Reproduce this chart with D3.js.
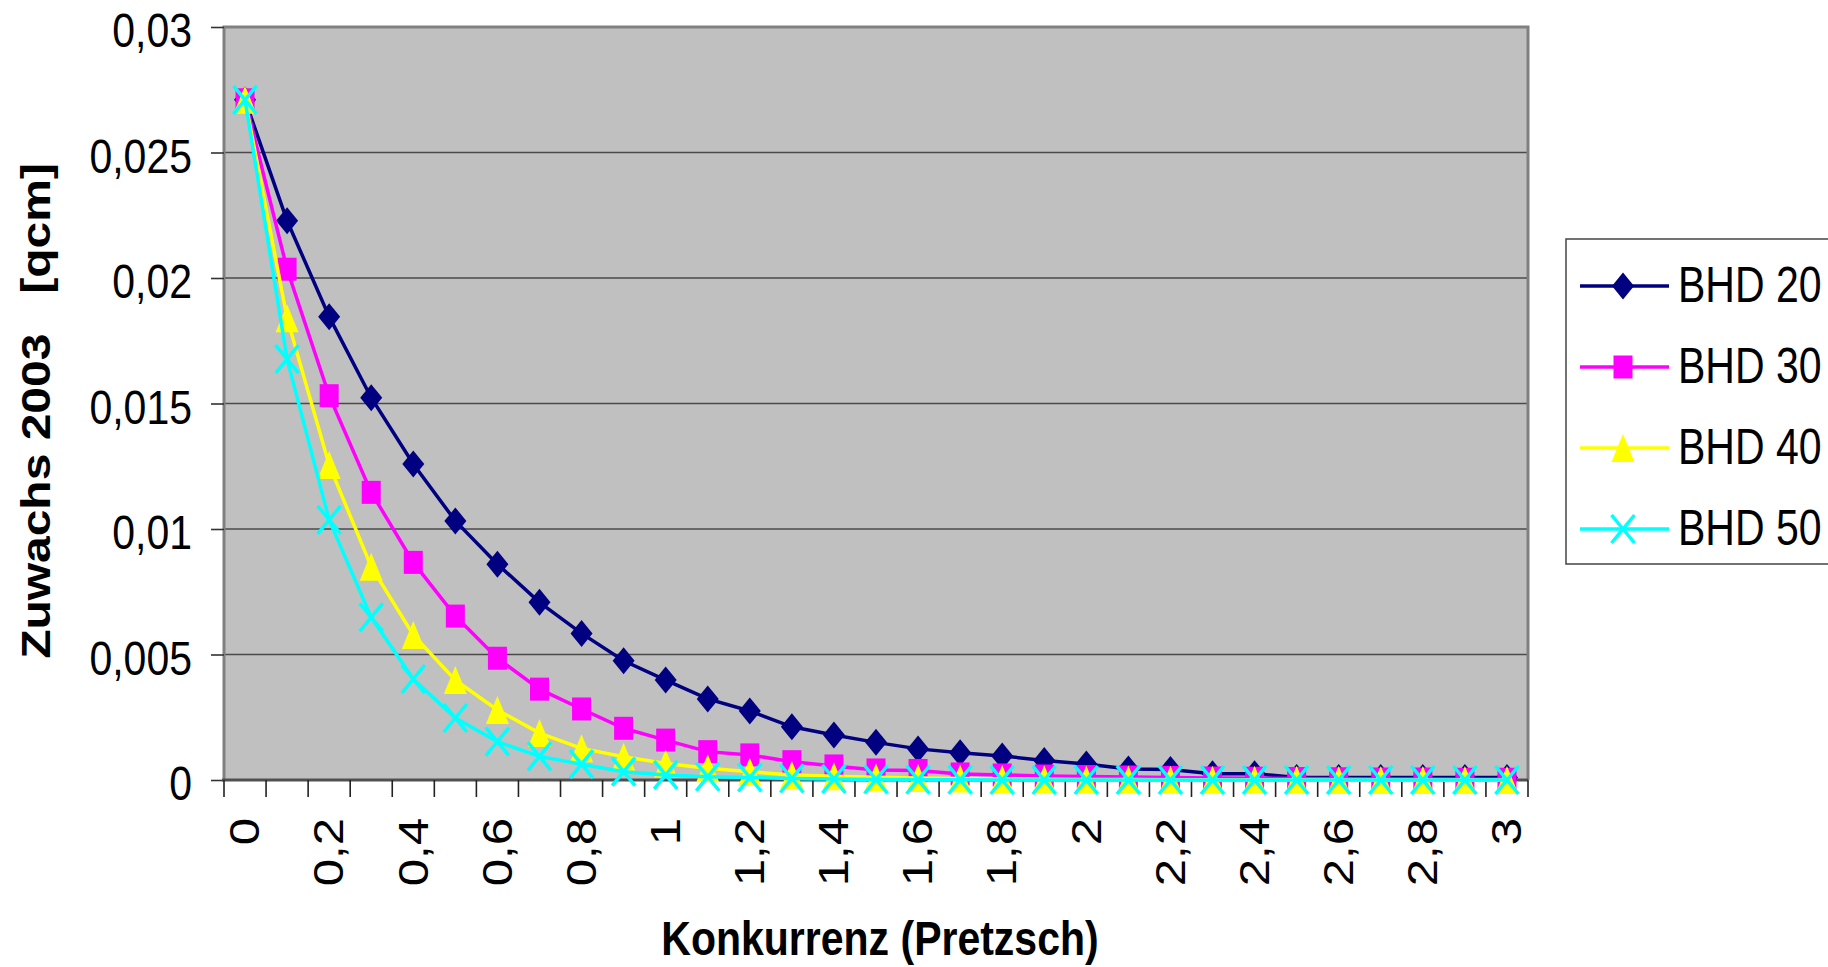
<!DOCTYPE html>
<html>
<head>
<meta charset="utf-8">
<script src="https://cdn.jsdelivr.net/npm/d3@7"></script>
<style>
    body { margin: 0; background: #fff; }
    text { font-family: "Liberation Sans", Arial, sans-serif; white-space: pre; }
</style>
</head>
<body>
<div id="chart"></div>
<script>
// categories on the x axis (Konkurrenz nach Pretzsch, 0 .. 3 in steps of 0.1)
var categories = ["0", "0,1", "0,2", "0,3", "0,4", "0,5", "0,6", "0,7", "0,8", "0,9",
    "1", "1,1", "1,2", "1,3", "1,4", "1,5", "1,6", "1,7", "1,8", "1,9",
    "2", "2,1", "2,2", "2,3", "2,4", "2,5", "2,6", "2,7", "2,8", "2,9", "3"];

// only every second category gets a label
var xTickLabels = ["0", "0,2", "0,4", "0,6", "0,8", "1", "1,2", "1,4", "1,6", "1,8",
    "2", "2,2", "2,4", "2,6", "2,8", "3"];

var yTicks = [0, 0.005, 0.01, 0.015, 0.02, 0.025, 0.03];
var yTickLabels = ["0", "0,005", "0,01", "0,015", "0,02", "0,025", "0,03"];

var seriesNames = ["BHD 20", "BHD 30", "BHD 40", "BHD 50"];

var bhd20 = [0.0271, 0.02228, 0.01846, 0.01523, 0.01259, 0.01032, 0.0086, 0.00708, 0.00584, 0.00475,
    0.00398, 0.00323, 0.00275, 0.00212, 0.00179, 0.0015, 0.00124, 0.00109, 0.00096, 0.00078,
    0.00064, 0.00044, 0.00042, 0.00025, 0.00025, 0.0001, 0.0001, 0.0001, 0.0001, 0.0001, 0.0001];
var bhd30 = [0.0271, 0.02035, 0.01531, 0.01146, 0.00867, 0.00653, 0.00485, 0.00362, 0.00283, 0.00206,
    0.00159, 0.00113, 0.001, 0.00073, 0.00056, 0.0004, 0.00038, 0.00024, 0.0002, 0.00016,
    0.00014, 0.00012, 0.0001, 0.00008, 0.00007, 0.00006, 0.00005, 0.00004, 0.00004, 0.00003, 0.00003];
var bhd40 = [0.0271, 0.0184, 0.01255, 0.0085, 0.00578, 0.00398, 0.00279, 0.00187, 0.00126, 0.00093,
    0.00066, 0.00047, 0.00033, 0.0002, 0.00015, 0.00011, 0.00008, 0.00006, 0.00004, 0.00003,
    0.00002, 0.00002, 0.00001, 0.00001, 0.00001, 0.00001, 0, 0, 0, 0, 0];
var bhd50 = [0.0271, 0.01677, 0.01036, 0.00648, 0.00402, 0.00247, 0.00153, 0.00094, 0.00063, 0.00033,
    0.0002, 0.00013, 0.0001, 0.00006, 0.00004, 0.00002, 0.00001, 0.00001, 0, 0,
    0, 0, 0, 0, 0, 0, 0, 0, 0, 0, 0];

(function() {

    var width = 1828,
        height = 967;

    // plot area in pixels
    var left = 224, top = 27, right = 1528, bottom = 780;

    // the original picture is stretched vertically, so all text gets the same stretch
    var stretch = 1.17;

    var colors = ["#000080", "#ff00ff", "#ffff00", "#00ffff"];
    var shapes = ["diamond", "square", "triangle", "cross"];
    var values = [bhd20, bhd30, bhd40, bhd50];

    var svg = d3.select("#chart")
        .append("svg")
        .attr("width", width)
        .attr("height", height);

    var x = d3.scaleBand()
        .domain(categories)
        .range([left, right])
        .paddingInner(0)
        .paddingOuter(0);

    var y = d3.scaleLinear()
        .domain([0, 0.03])
        .range([bottom, top]);

    function cx(i) {
        return x(categories[i]) + x.bandwidth() / 2;
    }

    // grey plot background
    svg.append("rect")
        .attr("x", left)
        .attr("y", top)
        .attr("width", right - left)
        .attr("height", bottom - top)
        .attr("fill", "#c0c0c0");

    // horizontal gridlines
    svg.append("g")
        .selectAll("line")
        .data(yTicks.slice(1, -1))
        .enter()
        .append("line")
        .attr("x1", left)
        .attr("x2", right)
        .attr("y1", function(d) { return y(d); })
        .attr("y2", function(d) { return y(d); })
        .attr("stroke", "#4a4a4a")
        .attr("stroke-width", 1.6);

    // plot border (grey on top, left and right)
    svg.append("path")
        .attr("d", "M" + left + "," + bottom + "V" + top + "H" + right + "V" + bottom)
        .attr("fill", "none")
        .attr("stroke", "#808080")
        .attr("stroke-width", 3);

    // y axis
    var yAxis = d3.axisLeft(y)
        .tickValues(yTicks)
        .tickSize(13)
        .tickFormat("");

    var yAxisG = svg.append("g")
        .attr("transform", "translate(" + left + ",0)")
        .call(yAxis);
    yAxisG.select(".domain").remove();
    yAxisG.selectAll(".tick line").attr("stroke", "#333").attr("stroke-width", 1.6);

    svg.append("g")
        .selectAll("text")
        .data(yTicks)
        .enter()
        .append("text")
        .attr("transform", function(d) {
            return "translate(192," + (y(d) + 20) + ") scale(1," + stretch + ")";
        })
        .attr("text-anchor", "end")
        .attr("font-size", 41)
        .text(function(d, i) { return yTickLabels[i]; });

    // x axis line
    svg.append("line")
        .attr("x1", left - 2)
        .attr("x2", right)
        .attr("y1", bottom)
        .attr("y2", bottom)
        .attr("stroke", "#505050")
        .attr("stroke-width", 3);

    // tick marks between the categories
    var tickPos = categories.map(function(c) { return x(c); }).concat([right]);
    svg.append("g")
        .selectAll("line")
        .data(tickPos)
        .enter()
        .append("line")
        .attr("x1", function(d) { return d; })
        .attr("x2", function(d) { return d; })
        .attr("y1", bottom)
        .attr("y2", bottom + 17)
        .attr("stroke", "#222")
        .attr("stroke-width", 1.6);

    // rotated category labels
    svg.append("g")
        .selectAll("text")
        .data(xTickLabels)
        .enter()
        .append("text")
        .attr("transform", function(d) {
            return "translate(" + (x(d) + x.bandwidth() / 2) + ",818) scale(1," + stretch + ") rotate(-90)";
        })
        .attr("text-anchor", "end")
        .attr("dominant-baseline", "central")
        .attr("font-size", 42)
        .text(function(d) { return d; });

    // axis titles
    svg.append("text")
        .attr("transform", "translate(880,955) scale(1," + stretch + ")")
        .attr("text-anchor", "middle")
        .attr("font-size", 41)
        .attr("font-weight", "bold")
        .text("Konkurrenz (Pretzsch)");

    svg.append("text")
        .attr("transform", "translate(50,411) scale(1," + stretch + ") rotate(-90)")
        .attr("text-anchor", "middle")
        .attr("font-size", 41)
        .attr("font-weight", "bold")
        .text("Zuwachs 2003   [qcm]");

    // marker path for a shape centred on 0,0
    function markerPath(shape) {
        if (shape === "diamond") return "M0,-13.5L11,0L0,13.5L-11,0Z";
        if (shape === "square") return "M-9.5,-11.5H9.5V11.5H-9.5Z";
        if (shape === "triangle") return "M0,-14L11.5,14H-11.5Z";
        return "M-11.5,-14L11.5,14M11.5,-14L-11.5,14";
    }

    function drawMarker(g, shape, color, px, py) {
        var p = g.append("path")
            .attr("transform", "translate(" + px + "," + py + ")")
            .attr("d", markerPath(shape));
        if (shape === "cross") {
            p.attr("fill", "none").attr("stroke", color).attr("stroke-width", 3.5);
        } else {
            p.attr("fill", color);
        }
    }

    var line = d3.line()
        .x(function(d, i) { return cx(i); })
        .y(function(d) { return y(d); });

    // one group per series: line first, then its markers
    values.forEach(function(vals, s) {
        var g = svg.append("g").attr("class", "series");
        g.append("path")
            .datum(vals)
            .attr("d", line)
            .attr("fill", "none")
            .attr("stroke", colors[s])
            .attr("stroke-width", 3.5);
        vals.forEach(function(v, i) {
            drawMarker(g, shapes[s], colors[s], cx(i), y(v));
        });
    });

    // legend
    var legend = svg.append("g");
    legend.append("rect")
        .attr("x", 1566)
        .attr("y", 239)
        .attr("width", 300)
        .attr("height", 325)
        .attr("fill", "#fff")
        .attr("stroke", "#444")
        .attr("stroke-width", 1.5);

    seriesNames.forEach(function(name, s) {
        var ly = 286 + s * 81;
        legend.append("line")
            .attr("x1", 1580)
            .attr("x2", 1669)
            .attr("y1", ly)
            .attr("y2", ly)
            .attr("stroke", colors[s])
            .attr("stroke-width", 3.5);
        drawMarker(legend, shapes[s], colors[s], 1623, ly);
        legend.append("text")
            .attr("transform", "translate(1678," + (ly + 16) + ") scale(1,1.22)")
            .attr("font-size", 41)
            .text(name);
    });

})();
</script>
</body>
</html>
